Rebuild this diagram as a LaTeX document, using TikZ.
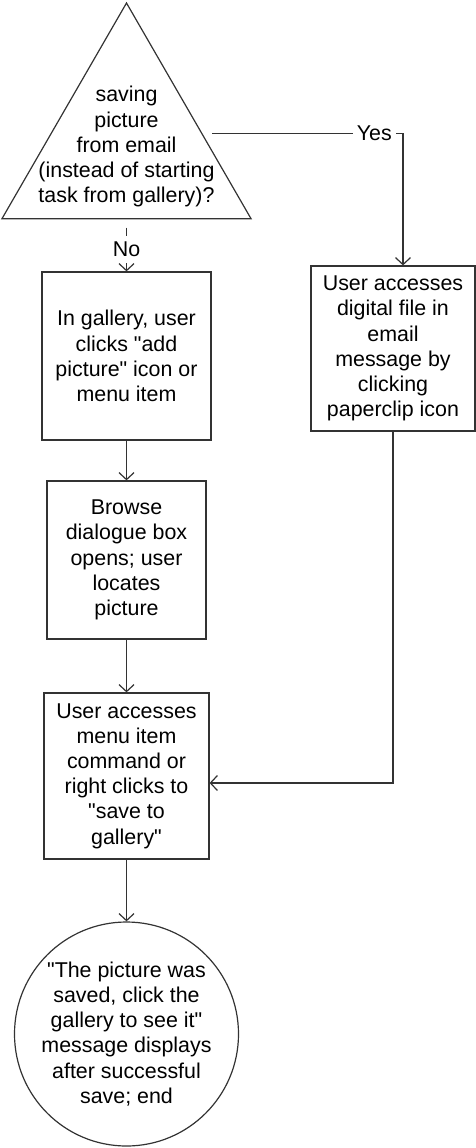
\documentclass[tikz,border=0pt]{standalone}
\usepackage{fontspec}
\setmainfont{Liberation Sans}[Ligatures=TeXOff]
\usepackage{tikz}
\usetikzlibrary{shapes.geometric,arrows.meta}

\begin{document}
\begin{tikzpicture}[x=0.5pt,y=-0.5pt,
    font=\fontsize{10.7}{12.6}\selectfont,
    every node/.style={align=center},
    box/.style={draw=black!80, line width=0.6pt, inner sep=0pt},
    arr/.style={draw=black!80, line width=0.6pt, -{Straight Barb[length=3.5pt,width=7.5pt]}},
    lbl/.style={fill=white, inner sep=2pt}]
                \useasboundingbox (0,0) rectangle (476,1148);

                \node (dec) [draw=black!80, line width=0.6pt, regular polygon, regular polygon sides=3,
                    minimum size=143.8pt, inner sep=0pt, outer sep=4.5pt,
                    label={[align=center]center:saving\\picture\\from email\\(instead of starting\\task from gallery)?}] at (126.5, 146.8) {};
                \node (add) [box, minimum width=84.5pt, minimum height=84pt] at (126.5, 356) {In gallery, user\\clicks "add\\picture" icon or\\menu item};
                \node (email) [box, minimum width=82pt, minimum height=82.5pt] at (393, 348.5) {User accesses\\digital file in\\email\\message by\\clicking\\paperclip icon};
                \node (browse) [box, minimum width=79.5pt, minimum height=79pt] at (126.5, 560) {Browse\\dialogue box\\opens; user\\locates\\picture};
                \node (save) [box, minimum width=82.5pt, minimum height=83pt] at (126.5, 776) {User accesses\\menu item\\command or\\right clicks to\\"save to\\gallery"};
                \node (done) [box, circle, minimum size=112pt] at (126.5, 1034) {"The picture was\\saved, click the\\gallery to see it"\\message displays\\after successful\\save; end};

                \draw[arr] (dec.9) -| node[lbl, pos=0.425]{Yes} ([xshift=5pt]email.north);
                \draw[arr] (dec.south) -- node[lbl, midway, inner sep=3pt]{No} (add.north);
                \draw[arr] (add) -- (browse);
                \draw[arr] (browse) -- (save);
                \draw[arr] (email.south) |- ([yshift=-3.5pt]save.east);
                \draw[arr] (save) -- (done);
            \end{tikzpicture}
\end{document}
